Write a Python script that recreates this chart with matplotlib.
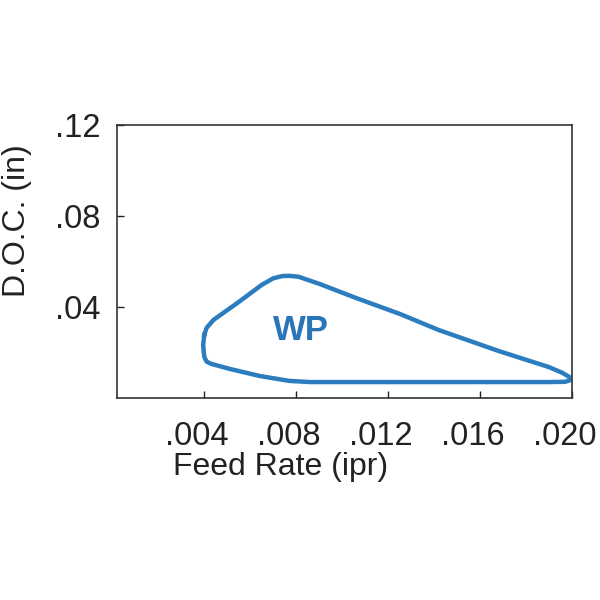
import matplotlib
matplotlib.use("Agg")
from matplotlib import pyplot as plt
from matplotlib.transforms import ScaledTranslation

# operating window outline (feed rate in ipr, depth of cut in in), traced clockwise
feed = [0.0040, 0.0041, 0.0044, 0.0055, 0.0065, 0.0070, 0.0074, 0.0077, 0.0081,
        0.0090, 0.0107, 0.0125, 0.0142, 0.0168, 0.0190, 0.0196, 0.0199, 0.0199,
        0.0197, 0.0190, 0.0125, 0.0086, 0.0077, 0.0064, 0.0051, 0.0043, 0.0041,
        0.0040, 0.00395, 0.0040]
doc = [0.0277, 0.0308, 0.0343, 0.0422, 0.0497, 0.0526, 0.0536, 0.0537, 0.0533,
       0.0502, 0.0436, 0.0370, 0.0299, 0.0207, 0.0136, 0.0110, 0.0092, 0.0077,
       0.0071, 0.0070, 0.0070, 0.0070, 0.0075, 0.0097, 0.0128, 0.0150, 0.0160,
       0.0180, 0.0233, 0.0277]

x_ticks = [0.004, 0.008, 0.012, 0.016, 0.020]
x_labels = [".004", ".008", ".012", ".016", ".020"]
y_ticks = [0.04, 0.08, 0.12]
y_labels = [".04", ".08", ".12"]

blue = "#2c7dc0"
font = "Liberation Sans"
ink = "#222222"

fig = plt.figure(figsize=(6, 6), dpi=100)
ax = fig.add_axes([0.195, 0.3367, 0.758, 0.455])

ax.plot(feed, doc, color=blue, lw=3.2, solid_joinstyle="round")
ax.text(0.0082, 0.0295, "WP", color="#2a74b8", fontsize=25, fontweight="bold",
        family=font, ha="center", va="center")

ax.set_xlim(0.0002, 0.020)
ax.set_ylim(0, 0.12)
ax.set_xticks(x_ticks)
ax.set_xticklabels(x_labels)
ax.set_yticks(y_ticks)
ax.set_yticklabels(y_labels)
ax.tick_params(direction="in", length=5, width=1, color=ink,
               labelsize=23.5, labelcolor=ink)
ax.tick_params(axis="x", pad=16.5)
ax.tick_params(axis="y", pad=12)
# x tick labels sit a little left of their ticks in the original
shift = ScaledTranslation(-7 / 100, 0, fig.dpi_scale_trans)
for lab in ax.get_xticklabels():
    lab.set_family(font)
    lab.set_transform(lab.get_transform() + shift)
for lab in ax.get_yticklabels():
    lab.set_family(font)

for sp in ax.spines.values():
    sp.set_color("#333333")
    sp.set_linewidth(1.2)

ax.set_xlabel("Feed Rate (ipr)", fontsize=23, family=font, color=ink)
ax.set_ylabel("D.O.C. (in)", fontsize=23, family=font, color=ink)
ax.xaxis.set_label_coords(0.36, -0.198)
ax.yaxis.set_label_coords(-0.187, 0.648)

fig.savefig("out.png", dpi=100)
